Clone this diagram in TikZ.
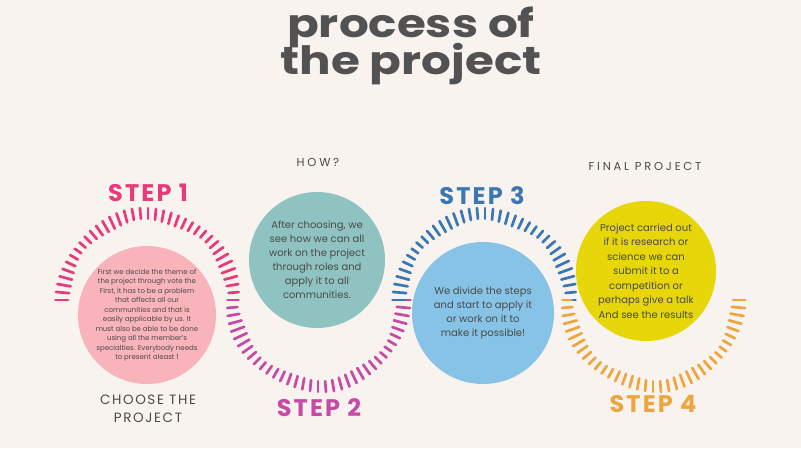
\documentclass[tikz,border=0pt]{standalone}
\usepackage{fontspec}
\setmainfont{Poppins}
\newfontfamily\titlefont[FakeStretch=1.2]{Poppins}
\newfontfamily\capsfont[LetterSpace=12]{Poppins}
\newfontfamily\headfont[LetterSpace=24]{Poppins}
\newfontfamily\stepfont[LetterSpace=9]{Poppins}
\newcommand\titlesetup{\titlefont\fontsize{39}{37.5}\selectfont\bfseries\lineskiplimit-50pt\relax}
\usetikzlibrary{positioning}

\definecolor{paper}{HTML}{F8F3EE}
\definecolor{ink}{HTML}{4A4A4A}
\definecolor{titlegray}{HTML}{525252}
\definecolor{ringone}{HTML}{E8397A}
\definecolor{ringtwo}{HTML}{C44BA6}
\definecolor{ringthree}{HTML}{3B78B3}
\definecolor{ringfour}{HTML}{EDA63E}
\definecolor{pinkfill}{HTML}{F9B3BB}
\definecolor{tealfill}{HTML}{8FC3C1}
\definecolor{bluefill}{HTML}{87C3E6}
\definecolor{yellowfill}{HTML}{E6D60A}

\begin{document}
\begin{tikzpicture}[
    x=1pt, y=-1pt,
    blob/.style={circle, inner sep=0pt, minimum size=#1, align=center, text=ink},
    ticks/.style={line width=2.7pt, line cap=round},
    steplabel/.style={font=\stepfont\fontsize{24}{24}\selectfont\bfseries},
    heading/.style={font=\headfont\fontsize{11.5}{14}\selectfont, text=ink, align=center}
]
\fill[paper] (0,0) rectangle (801,448);
\useasboundingbox (0,0) rectangle (801,448);

% title
\node[font=\titlesetup, text=titlegray, align=center] (title) at (411,46)
    {process of\\the project};

% ring centres
\coordinate (c1) at (148,300);
\coordinate (c2) at (318,300);
\coordinate (c3) at (485,300);
\coordinate (c4) at (653,300);

% dashed half rings
\foreach \c/\from/\col in {c1/180/ringone, c2/0/ringtwo, c3/180/ringthree, c4/0/ringfour}
  \foreach \i in {0,...,36}
    \draw[ticks, \col, shift={(\c)}]
      ({\from+5*\i}:{80-1.5*sin(37*\i)}) -- ({\from+5*\i}:{91+1.5*cos(23*\i)});

% circles
\node[blob=138pt, fill=pinkfill, font=\fontsize{7}{9.5}\selectfont] (choose) at (147,315)
    {First we decide the theme of\\the project through vote  the\\First, it has to be a problem\\that affects all our\\communities and that is\\easily applicable by us. It\\must also be able to be done\\using all the member's\\specialties. Everybody needs\\to present aleast 1};
\node[blob=136pt, fill=tealfill, font=\fontsize{10}{14}\selectfont] (how) at (317,260)
    {After choosing, we\\see how we can all\\work on the project\\through roles and\\apply it to all\\communities.};
\node[blob=142pt, fill=bluefill, font=\fontsize{10}{14}\selectfont] (divide) at (483,313)
    {We divide the steps\\and start to apply it\\or work on it to\\make it possible!};
\node[blob=140pt, fill=yellowfill, font=\fontsize{10}{14.5}\selectfont] (final) at (646,271)
    {Project carried out\\if it is research or\\science we can\\submit it to a\\competition or\\perhaps give a talk\\ And see the results};

% step labels
\node[steplabel, text=ringone] (step1) at (148,193) {STEP 1};
\node[steplabel, text=ringtwo] (step2) at (319,408) {STEP 2};
\node[steplabel, text=ringthree] (step3) at (482,196) {STEP 3};
\node[steplabel, text=ringfour] (step4) at (653,404) {STEP 4};

% headings
\node[heading] (howhead) at (318,162) {HOW?};
\node[heading] (finalhead) at (645,166) {FINAL PROJECT};
\node[heading, font=\capsfont\fontsize{13.5}{18}\selectfont] (choosehead) at (148,409) {CHOOSE THE\\PROJECT};
\end{tikzpicture}
\end{document}
